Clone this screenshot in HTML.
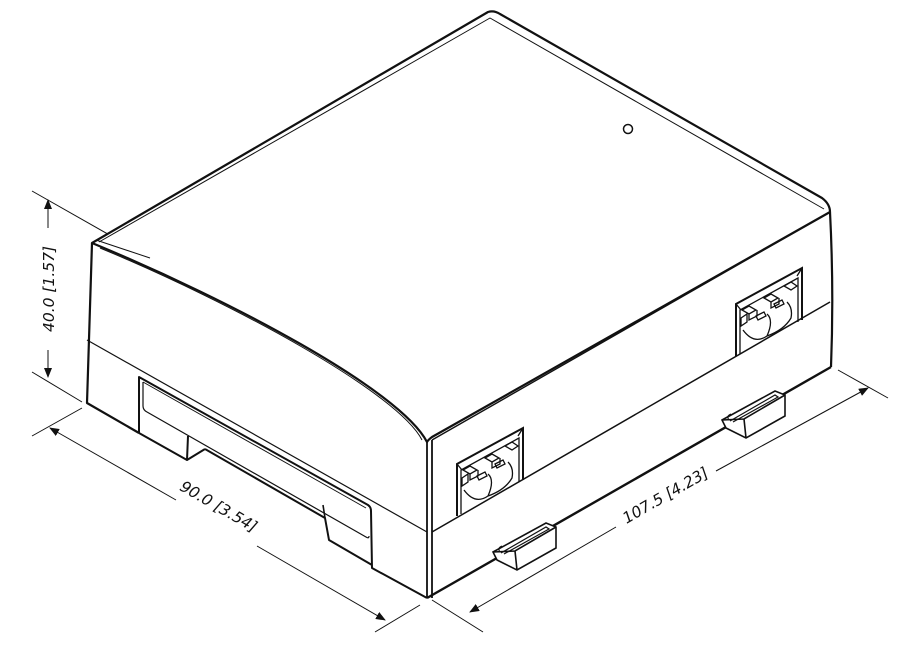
<!DOCTYPE html>
<html><head><meta charset="utf-8"><style>
html,body{margin:0;padding:0;background:#fff;width:919px;height:663px;overflow:hidden}
svg{display:block}
text{font-family:"DejaVu Sans","Liberation Sans",sans-serif;font-style:italic;font-size:15.5px;fill:#111}
</style></head><body>
<svg width="919" height="663" viewBox="0 0 919 663" xmlns="http://www.w3.org/2000/svg">
<defs>
<marker id="ar" markerWidth="10" markerHeight="8" refX="9" refY="4" orient="auto-start-reverse" markerUnits="userSpaceOnUse">
<path d="M0,0 L10,4 L0,8 z" fill="#111"/>
</marker>
<g id="conn" fill="none" stroke="#111" stroke-width="1.3">
<path d="M457,516 L457,464 L523,428 L523,480" stroke-width="2"/>
<path d="M461,514 L461,470 L519,438 L519,482"/>
<path d="M457,464 L462,470 M523,428 L518,436"/>
<path d="M463,470 L470,466 L477,470 L470,474 Z M485,458 L492,454 L499,458 L492,462 Z M505,446 L512,442 L518,446 L512,450 Z"/>
<path d="M470,474 L470,480 L478,476 L478,470 M492,462 L492,468 L500,464 L500,458"/>
<path d="M462,478 L468,474 L468,482 L462,486 Z M477,476 L485,472 L487,476 L479,480 Z M495,464 L503,460 L505,464 L497,468 Z"/>
<path d="M464,490 Q475,505 488,496 Q495,480 488,474 M488,496 Q505,490 512,478 Q514,468 508,462"/>
</g>
<g id="clip" fill="#fff" stroke="#111" stroke-width="1.6">
<path d="M493,552 L546,523 L556,527 L556,548 L517,570 L497,560 Z"/>
<path d="M493,552 L515,551 L556,527 M515,551 L517,570" fill="none"/>
<path d="M501,553 L546,527 L549,529 L504,554" fill="none" stroke-width="1.2"/>
<path d="M500,552 Q497,548 502,546" fill="none" stroke-width="1.2"/>
</g>
</defs>

<!-- dimension lines -->
<g stroke="#111" stroke-width="1" fill="none">
<path d="M32,191 L150,258 M32,372 L82,402"/>
<path d="M48,228 L48,200" marker-end="url(#ar)"/>
<path d="M48,350 L48,377" marker-end="url(#ar)"/>
<path d="M32,436 L82,408 M375,632 L420,605"/>
<path d="M176,500 L50,428" marker-end="url(#ar)"/>
<path d="M257,546 L385,620" marker-end="url(#ar)"/>
<path d="M432,600 L483,632 M838,370 L888,398"/>
<path d="M616,527 L470,612" marker-end="url(#ar)"/>
<path d="M716,471 L868,388" marker-end="url(#ar)"/>
</g>
<text transform="translate(54,289) rotate(-90)" text-anchor="middle">40.0 [1.57]</text>
<text transform="translate(216,511) rotate(30)" text-anchor="middle">90.0 [3.54]</text>
<text transform="translate(668,500) rotate(-30)" text-anchor="middle">107.5 [4.23]</text>

<!-- top face -->
<g fill="#fff" stroke="#111" stroke-linejoin="round">
<path d="M92,243 L488,12 Q494,10 500,14 L822,198 Q830,204 830,212 L432,437 Q428,440 427,442 C400,390 230,300 92,243 Z" stroke-width="2.2"/>
<path d="M99,242 L490,18 L824,209" fill="none" stroke-width="1"/>
<path d="M100,248 C235,304 398,393 422,440" fill="none" stroke-width="1"/>
<path d="M96,240 L150,258" fill="none" stroke-width="1"/>
</g>
<circle cx="628" cy="129" r="4.5" fill="none" stroke="#111" stroke-width="1.5"/>

<!-- front (left) face -->
<g fill="none" stroke="#111" stroke-linejoin="round">
<path d="M92,243 L87,403 L139,433" stroke-width="2.2"/>
<path d="M87,340 L427,532" stroke-width="1.2"/>
<path d="M139,433 L139,377 L368,505 Q371,507 371,511 L372,568 L427,598" stroke-width="2"/>
<path d="M143,382 L366,508" stroke-width="1"/>
<path d="M143,382 L143,406 Q143,410 147,412 L366,537 Q369,539 369,536" stroke-width="1.2"/>
<path d="M139,433 L187,460 L205,449 M187,460 L188,436" stroke-width="2"/>
<path d="M205,449 L325,518 L329,540 L372,565" stroke-width="2"/>
<path d="M323,505 L325,518" stroke-width="1.6"/>
<path d="M427,442 L427,598 M432,440 L432,598" stroke-width="1.8"/>
</g>

<!-- right face -->
<g fill="none" stroke="#111" stroke-linejoin="round">
<path d="M432,440 L830,212" stroke-width="1.4"/>
<path d="M830,212 Q834,290 831,367" stroke-width="2.2"/>
<path d="M432,532 L830,302" stroke-width="1.5"/>
<path d="M427,598 L831,367" stroke-width="2.4"/>
</g>
<use href="#conn"/>
<use href="#conn" transform="translate(279,-160)"/>
<use href="#clip"/>
<use href="#clip" transform="translate(229,-132)"/>
</svg>
</body></html>
